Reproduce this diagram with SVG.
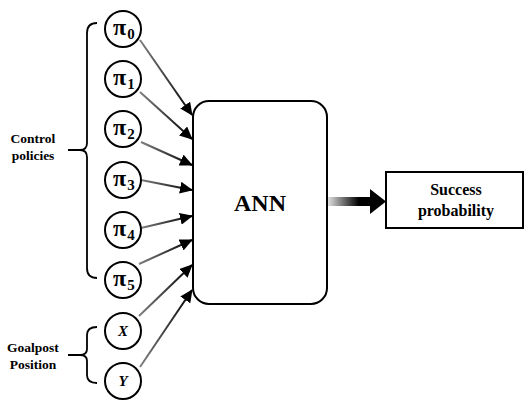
<svg xmlns="http://www.w3.org/2000/svg" width="525" height="400" viewBox="0 0 525 400">
<style>
.node circle{fill:#fff;stroke:#000;stroke-width:2}
.serif{font-family:"Liberation Serif","Times New Roman",serif}
.pi{font-weight:bold;font-size:24px;fill:#000}
.sub{font-size:15px}
.var{font-weight:bold;font-style:italic;font-size:15px;fill:#000}
.lbl{font-weight:bold;font-size:13.5px;fill:#000}
.conn{stroke:url(#lg);stroke-width:2;fill:none;marker-end:url(#ah)}
.brace{fill:none;stroke:#000;stroke-width:1.8}
</style>
<defs>
<linearGradient id="lg" x1="0" y1="0" x2="1" y2="0">
<stop offset="0" stop-color="#808080"/>
<stop offset="1" stop-color="#000"/>
</linearGradient>
<linearGradient id="og" x1="0" y1="0" x2="1" y2="0">
<stop offset="0" stop-color="#e0e0e0"/>
<stop offset="0.7" stop-color="#000"/>
<stop offset="1" stop-color="#000"/>
</linearGradient>
<marker id="ah" markerUnits="userSpaceOnUse" markerWidth="14" markerHeight="12" refX="12" refY="6" orient="auto" viewBox="0 0 14 12">
<path d="M0,0 L13,6 L0,12 Z" fill="#000"/>
</marker>
</defs>

<g id="braces">
<path class="brace" d="M97,23 Q87,23 87,33 L87,143 Q87,150 80,150 L68,150 M80,150 Q87,150 87,157 L87,268 Q87,278 97,278"/>
<path class="brace" d="M97,327 Q87,327 87,335 L87,349 Q87,355 80,355 L68,355 M80,355 Q87,355 87,361 L87,375 Q87,383 97,383"/>
<text class="lbl serif" x="33" y="143" text-anchor="middle">Control</text>
<text class="lbl serif" x="33" y="160" text-anchor="middle">policies</text>
<text class="lbl serif" x="33" y="352" text-anchor="middle">Goalpost</text>
<text class="lbl serif" x="33" y="369" text-anchor="middle">Position</text>
</g>

<g id="connectors">
<line class="conn" x1="140" y1="40" x2="192" y2="115"/>
<line class="conn" x1="140" y1="92" x2="192" y2="139"/>
<line class="conn" x1="141" y1="142" x2="192" y2="165"/>
<line class="conn" x1="141" y1="180" x2="192" y2="190"/>
<line class="conn" x1="141" y1="228" x2="192" y2="216"/>
<line class="conn" x1="139" y1="264" x2="192" y2="240"/>
<line class="conn" x1="139" y1="316" x2="192" y2="265"/>
<line class="conn" x1="140" y1="367" x2="192" y2="290"/>
<rect x="328" y="197" width="44" height="9" fill="url(#og)"/>
<path d="M370,189 L386,201.5 L370,214 Z" fill="#000"/>
</g>

<g id="pi0" class="node"><circle cx="123" cy="29" r="18"/><text class="pi serif" x="113" y="35">π<tspan class="sub" dx="1" dy="4">0</tspan></text></g>
<g id="pi1" class="node"><circle cx="123" cy="79" r="18"/><text class="pi serif" x="113" y="85">π<tspan class="sub" dx="1" dy="4">1</tspan></text></g>
<g id="pi2" class="node"><circle cx="123" cy="129" r="18"/><text class="pi serif" x="113" y="135">π<tspan class="sub" dx="1" dy="4">2</tspan></text></g>
<g id="pi3" class="node"><circle cx="123" cy="180" r="18"/><text class="pi serif" x="113" y="186">π<tspan class="sub" dx="1" dy="4">3</tspan></text></g>
<g id="pi4" class="node"><circle cx="123" cy="230" r="18"/><text class="pi serif" x="113" y="236">π<tspan class="sub" dx="1" dy="4">4</tspan></text></g>
<g id="pi5" class="node"><circle cx="123" cy="280" r="18"/><text class="pi serif" x="113" y="286">π<tspan class="sub" dx="1" dy="4">5</tspan></text></g>
<g id="X" class="node"><circle cx="123" cy="331" r="18"/><text class="var serif" x="123" y="336" text-anchor="middle">X</text></g>
<g id="Y" class="node"><circle cx="123" cy="381" r="18"/><text class="var serif" x="123" y="386" text-anchor="middle">Y</text></g>

<g id="ann">
<rect x="193" y="101" width="134" height="203" rx="16" ry="16" fill="#fff" stroke="#000" stroke-width="2"/>
<text class="serif" x="260" y="211" text-anchor="middle" font-weight="bold" font-size="24">ANN</text>
</g>

<g id="success">
<rect x="386" y="172" width="137" height="56" fill="#fff" stroke="#000" stroke-width="2"/>
<text class="serif" x="456" y="195" text-anchor="middle" font-weight="bold" font-size="16">Success</text>
<text class="serif" x="456" y="216" text-anchor="middle" font-weight="bold" font-size="16">probability</text>
</g>
</svg>
